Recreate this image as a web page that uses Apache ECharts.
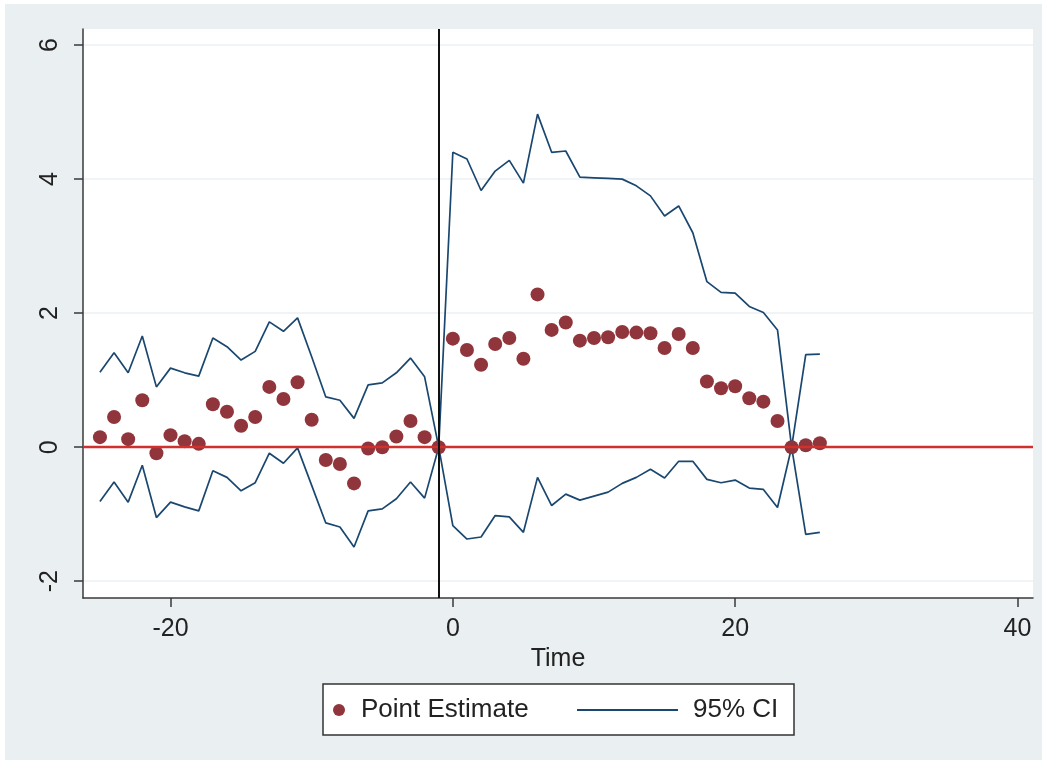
<!DOCTYPE html>
<html>
<head>
<meta charset="utf-8">
<script src="https://cdn.jsdelivr.net/npm/echarts@6/dist/echarts.min.js"></script>
<style>
  html, body { margin: 0; padding: 0; background: #fff; }
  #chart { width: 1047px; height: 764px; }
</style>
</head>
<body>
<div id="chart"></div>
<script type="text/javascript">
var time = [-25, -24, -23, -22, -21, -20, -19, -18, -17, -16, -15, -14, -13, -12, -11, -10, -9, -8, -7, -6, -5, -4, -3, -2, -1,
  0, 1, 2, 3, 4, 5, 6, 7, 8, 9, 10, 11, 12, 13, 14, 15, 16, 17, 18, 19, 20, 21, 22, 23, 24, 25, 26];
var estimate = [0.15, 0.45, 0.12, 0.70, -0.09, 0.18, 0.09, 0.05, 0.64, 0.53, 0.32, 0.45, 0.90, 0.72, 0.97, 0.41, -0.19, -0.25, -0.54, -0.02, 0.00, 0.16, 0.39, 0.15, 0.00,
  1.62, 1.45, 1.23, 1.54, 1.63, 1.32, 2.28, 1.75, 1.86, 1.59, 1.63, 1.64, 1.72, 1.71, 1.70, 1.48, 1.69, 1.48, 0.98, 0.88, 0.91, 0.73, 0.68, 0.39, 0.00, 0.03, 0.06];
var ciUpper = [1.12, 1.41, 1.11, 1.66, 0.90, 1.18, 1.11, 1.06, 1.63, 1.50, 1.30, 1.43, 1.87, 1.73, 1.93, 1.35, 0.75, 0.70, 0.43, 0.93, 0.96, 1.11, 1.33, 1.05, 0.00,
  4.40, 4.30, 3.83, 4.12, 4.28, 3.94, 4.97, 4.40, 4.42, 4.03, 4.02, 4.01, 4.00, 3.90, 3.75, 3.45, 3.60, 3.20, 2.47, 2.31, 2.30, 2.10, 2.01, 1.75, 0.00, 1.38, 1.39];
var ciLower = [-0.81, -0.52, -0.82, -0.27, -1.05, -0.82, -0.89, -0.95, -0.35, -0.45, -0.65, -0.53, -0.09, -0.24, -0.01, -0.57, -1.13, -1.19, -1.49, -0.95, -0.92, -0.77, -0.52, -0.76, 0.00,
  -1.17, -1.37, -1.34, -1.02, -1.04, -1.27, -0.45, -0.87, -0.70, -0.79, -0.73, -0.67, -0.54, -0.45, -0.33, -0.46, -0.21, -0.21, -0.48, -0.53, -0.49, -0.61, -0.63, -0.90, 0.00, -1.30, -1.27];
var xTicks = [-20, 0, 20, 40];
var yTicks = [-2, 0, 2, 4, 6];
var eventTime = -1;
var zeroLine = 0;

function pairs(ys) {
  return time.map(function (t, i) { return [t, ys[i]]; });
}

var font = 'Liberation Sans, Arial, sans-serif';
var ciColor = '#1a476f';
var dotColor = '#90353b';
var axisColor = '#3a3a3a';

var myChart = echarts.init(document.getElementById('chart'));
var option = {
  animation: false,
  backgroundColor: '#fff',
  textStyle: { fontFamily: font },
  graphic: [
    { type: 'rect', z: -10, shape: { x: 5, y: 4, width: 1037, height: 756 }, style: { fill: '#eaeff2' } },
    { type: 'rect', z: 1, shape: { x: 323, y: 684, width: 471, height: 51 }, style: { fill: '#fff', stroke: '#333', lineWidth: 1.5 } }
  ],
  grid: { left: 83, right: 14, top: 29, bottom: 166, show: true, backgroundColor: '#fff', borderWidth: 0 },
  legend: [
    {
      data: [{ name: 'Point Estimate', icon: 'circle' }], left: 333, top: 697, padding: 0,
      itemWidth: 12, itemHeight: 12,
      textStyle: { fontSize: 26, color: '#222', fontFamily: font, padding: [0, 0, 0, 11] }
    },
    {
      data: [{ name: '95% CI', icon: 'rect' }], left: 577, top: 697, padding: 0,
      itemWidth: 101, itemHeight: 2,
      textStyle: { fontSize: 26, color: '#222', fontFamily: font, padding: [0, 0, 0, 10] }
    }
  ],
  xAxis: {
    type: 'value', min: -26.2, max: 41.1,
    name: 'Time', nameLocation: 'middle', nameGap: 45,
    nameTextStyle: { fontSize: 25, color: '#222', fontFamily: font },
    axisLine: { show: true, onZero: false, lineStyle: { color: axisColor, width: 1.5 } },
    axisTick: { show: true, length: 9, customValues: xTicks, lineStyle: { color: axisColor, width: 1.5 } },
    axisLabel: { customValues: xTicks, margin: 19, fontSize: 25, color: '#222', fontFamily: font },
    splitLine: { show: false }
  },
  yAxis: {
    type: 'value', min: -2.25, max: 6.24,
    axisLine: { show: true, onZero: false, lineStyle: { color: axisColor, width: 1.5 } },
    axisTick: { show: true, length: 9, customValues: yTicks, lineStyle: { color: axisColor, width: 1.5 } },
    axisLabel: { customValues: yTicks, rotate: 90, margin: 20, fontSize: 25, color: '#222', fontFamily: font },
    splitLine: { show: true, lineStyle: { color: '#edf1f3', width: 1.5 } }
  },
  series: [
    {
      name: '95% CI', type: 'line', data: pairs(ciUpper), symbol: 'none', z: 2,
      lineStyle: { color: ciColor, width: 1.7 }, itemStyle: { color: ciColor },
      markLine: {
        silent: true, symbol: ['none', 'none'], label: { show: false },
        data: [
          { yAxis: zeroLine, lineStyle: { color: '#d0312d', width: 2.4, type: 'solid' } },
          { xAxis: eventTime, lineStyle: { color: '#111', width: 2, type: 'solid' } }
        ]
      }
    },
    {
      name: '95% CI', type: 'line', data: pairs(ciLower), symbol: 'none', z: 2,
      lineStyle: { color: ciColor, width: 1.7 }, itemStyle: { color: ciColor }
    },
    {
      name: 'Point Estimate', type: 'scatter', data: pairs(estimate), z: 3,
      symbol: 'circle', symbolSize: 14,
      itemStyle: { color: dotColor, opacity: 1 }
    }
  ]
};
myChart.setOption(option);
</script>
</body>
</html>
